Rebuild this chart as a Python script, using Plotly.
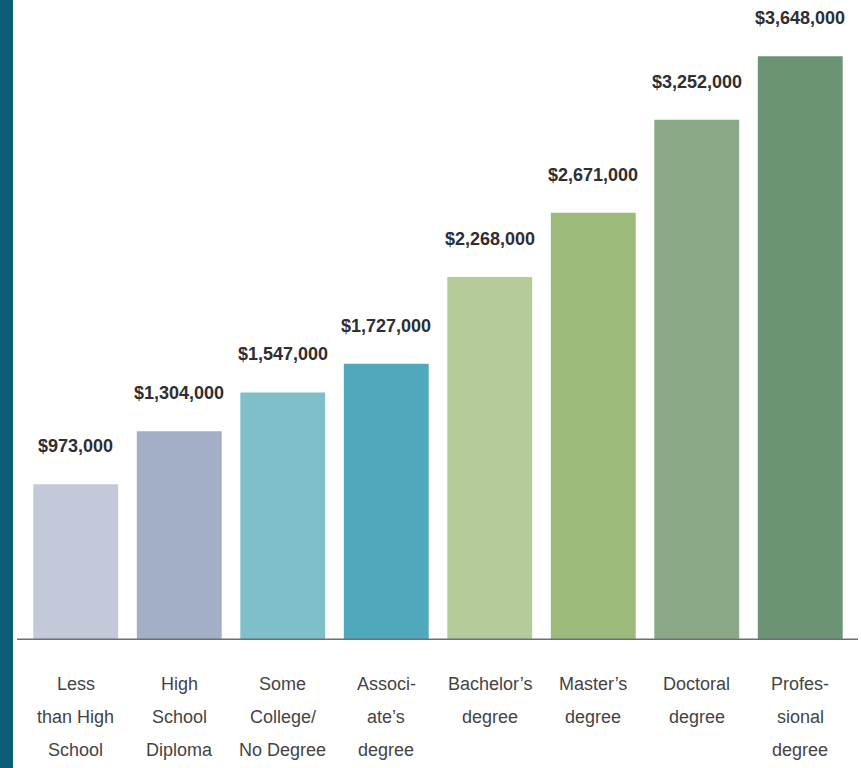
import plotly.graph_objects as go

categories = ["Less than High School", "High School Diploma", "Some College/No Degree",
              "Associate's degree", "Bachelor's degree", "Master's degree",
              "Doctoral degree", "Professional degree"]
label_lines = [["Less", "than High", "School"],
               ["High", "School", "Diploma"],
               ["Some", "College/", "No Degree"],
               ["Associ-", "ate\u2019s", "degree"],
               ["Bachelor\u2019s", "degree"],
               ["Master\u2019s", "degree"],
               ["Doctoral", "degree"],
               ["Profes-", "sional", "degree"]]
earnings = [973000, 1304000, 1547000, 1727000, 2268000, 2671000, 3252000, 3648000]
value_labels = ["$973,000", "$1,304,000", "$1,547,000", "$1,727,000",
                "$2,268,000", "$2,671,000", "$3,252,000", "$3,648,000"]
bar_colors = ["#c3c9d8", "#a3afc6", "#7fbfca", "#4fa8bb",
              "#b5cc9a", "#9cbb7a", "#88a886", "#6a9474"]

FONT = "Liberation Sans Narrow, Arial Narrow, Liberation Sans, Arial, sans-serif"

fig = go.Figure()
fig.add_trace(go.Bar(
    x=categories, y=earnings,
    marker=dict(color=bar_colors, line=dict(width=0)),
    hoverinfo="skip",
))

annotations = []
for cat, val, lab in zip(categories, earnings, value_labels):
    annotations.append(dict(
        x=cat, y=val, xref="x", yref="y", text=lab, showarrow=False,
        yanchor="middle", yshift=38,
        font=dict(family=FONT, size=18, color="#2e2e33", weight="bold"),
    ))
for cat, lines in zip(categories, label_lines):
    for i, line in enumerate(lines):
        annotations.append(dict(
            x=cat, y=0, xref="x", yref="y", text=line, showarrow=False,
            yanchor="middle", yshift=-(44 + 33 * i),
            font=dict(family=FONT, size=18, color="#444444"),
        ))

W_PLOT = 828
L = 24
fig.update_layout(
    width=861, height=768,
    margin=dict(l=L, r=861 - L - W_PLOT, t=0, b=128),
    paper_bgcolor="white", plot_bgcolor="white",
    bargap=0.18,
    showlegend=False,
    xaxis=dict(showticklabels=False, showgrid=False, zeroline=False, showline=False,
               ticks=""),
    yaxis=dict(range=[0, 4000000], showticklabels=False, showgrid=False,
               zeroline=False, showline=False, ticks=""),
    annotations=annotations,
    shapes=[
        dict(type="line", xref="paper", yref="y",
             x0=(17 - L) / W_PLOT, x1=(858 - L) / W_PLOT, y0=0, y1=0,
             line=dict(color="#6b7075", width=3), layer="above"),
        dict(type="rect", xref="paper", yref="paper",
             x0=-L / W_PLOT, x1=(13 - L) / W_PLOT, y0=-0.25, y1=1.0,
             fillcolor="#0b5d78", line=dict(width=0), layer="above"),
    ],
)

fig.write_html("out.html")
